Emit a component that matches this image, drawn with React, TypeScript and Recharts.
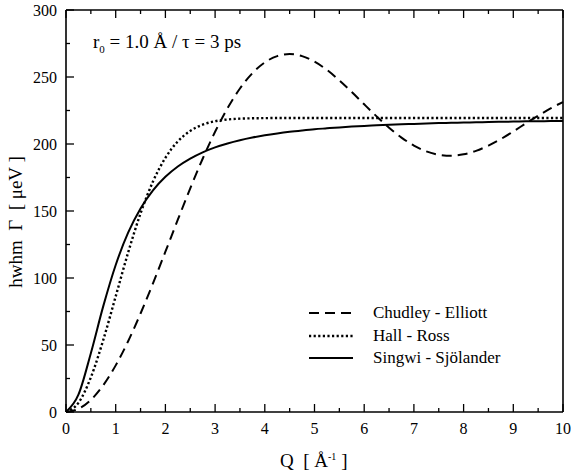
import { Line, LineChart, XAxis, YAxis } from "recharts";

// momentum transfer Q [1/Å]
const qValues = [
  0, 0.25, 0.5, 0.75, 1, 1.25, 1.5, 1.75, 2, 2.25, 2.5, 2.75, 3, 3.25, 3.5, 3.75, 4,
  4.25, 4.5, 4.75, 5, 5.25, 5.5, 5.75, 6, 6.25, 6.5, 6.75, 7, 7.25, 7.5, 7.75, 8,
  8.25, 8.5, 8.75, 9, 9.25, 9.5, 9.75, 10,
];

// hwhm in µeV
const chudleyElliott = [
  0, 2.3, 9.0, 20.0, 34.8, 52.8, 73.5, 96.0, 119.6, 143.5, 166.9, 189.0, 209.1, 226.7,
  241.4, 252.8, 260.9, 265.6, 267.1, 265.6, 261.5, 255.3, 247.5, 238.8, 229.6, 220.6,
  212.1, 204.8, 198.8, 194.5, 192.0, 191.2, 192.3, 194.9, 198.8, 203.7, 209.4, 215.3,
  221.1, 226.6, 231.3,
];
const hallRoss = [
  0, 6.8, 25.8, 53.8, 86.3, 119.0, 148.2, 172.0, 189.7, 201.9, 209.8, 214.4, 217.0,
  218.3, 218.9, 219.2, 219.3, 219.4, 219.4, 219.4, 219.4, 219.4, 219.4, 219.4, 219.4,
  219.4, 219.4, 219.4, 219.4, 219.4, 219.4, 219.4, 219.4, 219.4, 219.4, 219.4, 219.4,
  219.4, 219.4, 219.4, 219.4,
];
const singwiSjolander = [
  0, 12.9, 43.9, 79.0, 109.7, 133.8, 151.9, 165.4, 175.5, 183.2, 189.1, 193.8, 197.5,
  200.4, 202.8, 204.8, 206.5, 207.9, 209.1, 210.1, 211.0, 211.7, 212.4, 213.0, 213.5,
  213.9, 214.3, 214.7, 215.0, 215.3, 215.6, 215.8, 216.0, 216.2, 216.4, 216.6, 216.7,
  216.9, 217.0, 217.1, 217.2,
];

const xTicks = [0, 0.5, 1, 1.5, 2, 2.5, 3, 3.5, 4, 4.5, 5, 5.5, 6, 6.5, 7, 7.5, 8, 8.5, 9, 9.5, 10];
const yTicks = [0, 25, 50, 75, 100, 125, 150, 175, 200, 225, 250, 275, 300];

const data = qValues.map((q, i) => ({
  q,
  ce: chudleyElliott[i],
  hr: hallRoss[i],
  ss: singwiSjolander[i],
}));

const FONT = "Liberation Serif";

const BottomTick = (props: any) => {
  const { x, y, payload } = props;
  const major = Number.isInteger(payload.value);
  return (
    <g>
      <line x1={x} y1={y} x2={x} y2={y - (major ? 8 : 4)} stroke="#000" strokeWidth={1.3} />
      {major && (
        <text x={x} y={y + 22} textAnchor="middle" fontSize={16} fontFamily={FONT} fill="#000">
          {payload.value}
        </text>
      )}
    </g>
  );
};

const TopTick = (props: any) => {
  const { x, y, payload } = props;
  const major = Number.isInteger(payload.value);
  return <line x1={x} y1={y} x2={x} y2={y + (major ? 8 : 4)} stroke="#000" strokeWidth={1.3} />;
};

const LeftTick = (props: any) => {
  const { x, y, payload } = props;
  const major = payload.value % 50 === 0;
  return (
    <g>
      <line x1={x} y1={y} x2={x + (major ? 8 : 4)} y2={y} stroke="#000" strokeWidth={1.3} />
      {major && (
        <text x={x - 9} y={y + 5.5} textAnchor="end" fontSize={16} fontFamily={FONT} fill="#000">
          {payload.value}
        </text>
      )}
    </g>
  );
};

const RightTick = (props: any) => {
  const { x, y, payload } = props;
  const major = payload.value % 50 === 0;
  return <line x1={x} y1={y} x2={x - (major ? 8 : 4)} y2={y} stroke="#000" strokeWidth={1.3} />;
};

const legendItems = [
  { name: "Chudley - Elliott", dash: "10 6", width: 2 },
  { name: "Hall - Ross", dash: "2.2 2.4", width: 2.4 },
  { name: "Singwi - Sjölander", dash: undefined, width: 2 },
];

export default function App() {
  const axisLine = { stroke: "#000", strokeWidth: 1.6 };
  return (
    <div style={{ position: "absolute", left: 0, top: 0, width: 571, height: 475, background: "#fff" }}>
      <LineChart width={571} height={475} data={data} margin={{ top: 9, right: 7, bottom: 0, left: 0 }}>
        <XAxis
          xAxisId="bottom"
          dataKey="q"
          type="number"
          domain={[0, 10]}
          ticks={xTicks}
          interval={0}
          height={63}
          tickSize={0}
          tickMargin={0}
          tickLine={false}
          axisLine={axisLine}
          tick={<BottomTick />}
        />
        <XAxis
          xAxisId="top"
          orientation="top"
          dataKey="q"
          type="number"
          domain={[0, 10]}
          ticks={xTicks}
          interval={0}
          height={1}
          tickSize={0}
          tickMargin={0}
          tickLine={false}
          axisLine={axisLine}
          tick={<TopTick />}
        />
        <YAxis
          yAxisId="left"
          type="number"
          domain={[0, 300]}
          ticks={yTicks}
          interval={0}
          width={66}
          tickSize={0}
          tickMargin={0}
          tickLine={false}
          axisLine={axisLine}
          tick={<LeftTick />}
        />
        <YAxis
          yAxisId="right"
          orientation="right"
          type="number"
          domain={[0, 300]}
          ticks={yTicks}
          interval={0}
          width={1}
          tickSize={0}
          tickMargin={0}
          tickLine={false}
          axisLine={axisLine}
          tick={<RightTick />}
        />
        <Line
          xAxisId="bottom"
          yAxisId="left"
          type="monotone"
          dataKey="ce"
          stroke="#000"
          strokeWidth={2}
          strokeDasharray="10 6"
          dot={false}
          isAnimationActive={false}
        />
        <Line
          xAxisId="bottom"
          yAxisId="left"
          type="monotone"
          dataKey="hr"
          stroke="#000"
          strokeWidth={2.4}
          strokeDasharray="2.2 2.4"
          dot={false}
          isAnimationActive={false}
        />
        <Line
          xAxisId="bottom"
          yAxisId="left"
          type="monotone"
          dataKey="ss"
          stroke="#000"
          strokeWidth={2}
          dot={false}
          isAnimationActive={false}
        />
      </LineChart>

      {/* annotation */}
      <div style={{ position: "absolute", left: 93, top: 31, fontFamily: FONT, fontSize: 19, whiteSpace: "pre", lineHeight: "22px" }}>
        r<sub style={{ fontSize: 11, verticalAlign: "-5px" }}>0</sub> = 1.0 Å / τ = 3 ps
      </div>

      {/* legend */}
      <div style={{ position: "absolute", left: 307, top: 302, fontFamily: FONT, fontSize: 17 }}>
        {legendItems.map((it) => (
          <div key={it.name} style={{ display: "flex", alignItems: "center", height: 22.5 }}>
            <svg width={48} height={10} style={{ marginRight: 18 }}>
              <line x1={2} y1={5} x2={46} y2={5} stroke="#000" strokeWidth={it.width} strokeDasharray={it.dash} />
            </svg>
            <span style={{ whiteSpace: "nowrap" }}>{it.name}</span>
          </div>
        ))}
      </div>

      {/* axis titles */}
      <div style={{ position: "absolute", left: 280, top: 450, fontFamily: FONT, fontSize: 19, whiteSpace: "pre" }}>
        Q  [ Å<sup style={{ fontSize: 10 }}>-1</sup> ]
      </div>
      <div
        style={{
          position: "absolute",
          left: 16,
          top: 222,
          transform: "translate(-50%, -50%) rotate(-90deg)",
          fontFamily: FONT,
          fontSize: 19,
          whiteSpace: "pre",
        }}
      >
        hwhm  Γ  [ μeV ]
      </div>
    </div>
  );
}
